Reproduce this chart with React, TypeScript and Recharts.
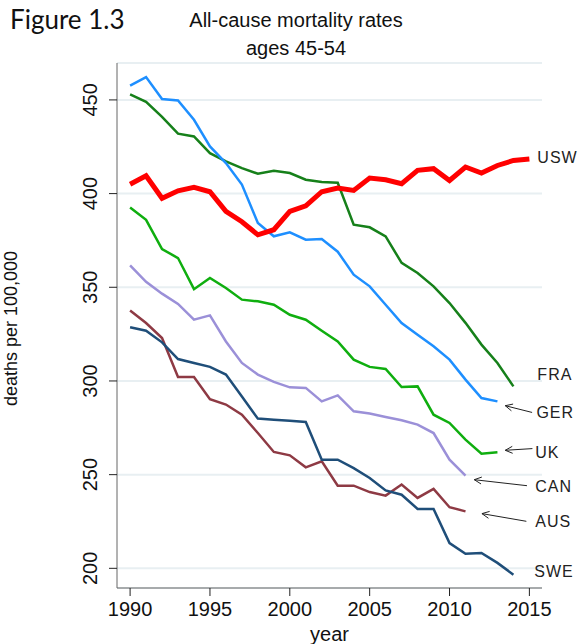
import React from 'react';
import { LineChart, Line, XAxis, YAxis, CartesianGrid, ReferenceLine, ReferenceDot } from 'recharts';

// all-cause mortality, ages 45-54, deaths per 100,000 (series start in 1990)
const years = [1990, 1991, 1992, 1993, 1994, 1995, 1996, 1997, 1998, 1999, 2000, 2001, 2002,
  2003, 2004, 2005, 2006, 2007, 2008, 2009, 2010, 2011, 2012, 2013, 2014, 2015];

const usw = [405, 409.5, 397.5, 401.5, 403.3, 401, 390.5, 385, 378, 380.7, 390.5, 393.5, 401, 403,
  401.7, 408.3, 407.4, 405.3, 412.4, 413.3, 407, 414.2, 411, 415, 417.7, 418.5];
const fra = [453, 449, 441, 432, 430.5, 421.6, 417.2, 413.6, 410.6, 412.2, 411, 407.4, 406.2, 405.8,
  383.4, 382, 377.2, 363, 357.6, 350.5, 341.6, 331, 319.4, 309.6, 297.1];
const ger = [457.6, 462.2, 450.5, 449.7, 439.4, 425.2, 416.3, 404.8, 384.3, 377.2, 379.3, 375.4, 375.8,
  369, 356.7, 350.5, 340.7, 330.9, 324.6, 318.5, 311.4, 300.7, 290.9, 289.1];
const uk = [392.6, 386, 370.4, 365.6, 349, 355, 349.6, 343.4, 342.5, 340.7, 335.3, 332.7, 326.8, 321.1,
  311.4, 307.5, 306.4, 296.8, 297.1, 282, 277.6, 268.7, 261.2, 261.9];
const can = [361.7, 352.9, 346.6, 341.1, 332.7, 335, 321.1, 309.6, 303.4, 299.5, 296.6, 296.3, 289.1,
  292.3, 283.8, 282.6, 280.8, 279, 276.7, 272.2, 258, 249.5];
const aus = [337.6, 330.9, 322.9, 302.1, 302.1, 290.3, 287.4, 282, 272.2, 262.1, 260.3, 253.9, 257.1,
  244.1, 244.1, 240.7, 238.8, 244.7, 237.6, 242.4, 232.6, 230.4];
const swe = [328.7, 326.8, 320.6, 311.7, 309.6, 307.5, 303.4, 291.7, 279.9, 279.3, 278.8, 278.1, 258,
  258, 253.5, 248.2, 241.6, 239.3, 231.7, 231.7, 213.5, 207.8, 208.2, 202.9, 196.6];

const xTicks = [1990, 1995, 2000, 2005, 2010, 2015];
const yTicks = [200, 250, 300, 350, 400, 450];

// country names at the right edge, in data units
const labelNames = ['USW', 'FRA', 'GER', 'UK', 'CAN', 'AUS', 'SWE'];
const labelYears = [2015.5, 2015.5, 2015.44, 2015.37, 2015.37, 2015.37, 2015.31];
const labelValues = [419.7, 303.9, 283.6, 262.3, 244.1, 225.1, 198.8];

// arrows: tail (near label) -> head (line end)
const arrowTails = [[2015.17, 283.2], [2015.19, 263.9], [2014.85, 244.1], [2014.81, 225.1]];
const arrowHeads = [[2013.49, 286.8], [2013.49, 263], [2011.55, 247.3], [2012.03, 229.2]];

const data = years.map((year, i) => ({
  year,
  USW: usw[i],
  FRA: fra[i],
  GER: ger[i],
  UK: uk[i],
  CAN: can[i],
  AUS: aus[i],
  SWE: swe[i],
}));

const FONT = '"Liberation Sans", Arial, sans-serif';

const XTick = (props: any) => {
  const { x, y, payload } = props;
  return (
    <text x={x} y={y} dy={16} textAnchor="middle" fontFamily={FONT} fontSize={20} fill="#111">
      {payload.value}
    </text>
  );
};

const YTick = (props: any) => {
  const { x, y, payload } = props;
  return (
    <text transform={`translate(${x},${y}) rotate(-90)`} textAnchor="middle" fontFamily={FONT} fontSize={20} fill="#111">
      {payload.value}
    </text>
  );
};

const Arrow = (props: any) => {
  const { x1, y1, x2, y2 } = props;
  const ang = Math.atan2(y1 - y2, x1 - x2);
  const len = 8;
  const a1 = ang + 0.45;
  const a2 = ang - 0.45;
  return (
    <g stroke="#222" strokeWidth={1} fill="none">
      <line x1={x1} y1={y1} x2={x2} y2={y2} />
      <line x1={x2} y1={y2} x2={x2 + len * Math.cos(a1)} y2={y2 + len * Math.sin(a1)} />
      <line x1={x2} y1={y2} x2={x2 + len * Math.cos(a2)} y2={y2 + len * Math.sin(a2)} />
    </g>
  );
};

const series = [
  { key: 'FRA', color: '#16801a', width: 2.5 },
  { key: 'GER', color: '#1e8fff', width: 2.5 },
  { key: 'UK', color: '#0fae0f', width: 2.5 },
  { key: 'CAN', color: '#9b90d8', width: 2.5 },
  { key: 'AUS', color: '#8e3a44', width: 2.5 },
  { key: 'SWE', color: '#1f4e79', width: 2.5 },
  { key: 'USW', color: '#ff0000', width: 5 },
];

export default function App() {
  return (
    <div style={{ position: 'absolute', left: 0, top: 0, width: 578, height: 644, background: '#fff' }}>
      <div style={{ position: 'absolute', left: 10, top: 3, fontFamily: 'Lato, "Open Sans", sans-serif', fontSize: 26, color: '#111' }}>
        Figure 1.3
      </div>
      <div style={{ position: 'absolute', left: 148, width: 296, top: 6, textAlign: 'center', fontFamily: FONT, fontSize: 20, lineHeight: '28px', color: '#111' }}>
        All-cause mortality rates
        <br />
        ages 45-54
      </div>
      <LineChart width={578} height={644} data={data} margin={{ top: 63, right: 36, bottom: 0, left: 0 }}>
        <CartesianGrid vertical={false} stroke="#e8eff2" strokeWidth={2} />
        <XAxis
          dataKey="year"
          type="number"
          domain={[1989.18, 2015.79]}
          allowDataOverflow
          ticks={xTicks}
          height={56}
          tickSize={8}
          tickMargin={4}
          stroke="#666"
          tickLine={{ stroke: '#222' }}
          tick={<XTick />}
          label={{
            content: (p: any) => (
              <text x={p.viewBox.x + p.viewBox.width / 2} y={p.viewBox.y + p.viewBox.height - 3}
                textAnchor="middle" fontFamily={FONT} fontSize={20} fill="#111">year</text>
            ),
          }}
        />
        <YAxis
          type="number"
          domain={[189.5, 469.7]}
          allowDataOverflow
          ticks={yTicks}
          width={117}
          tickSize={8}
          tickMargin={12}
          stroke="#666"
          tickLine={{ stroke: '#222' }}
          tick={<YTick />}
          label={{
            content: (p: any) => (
              <text transform={`translate(17,${p.viewBox.y + p.viewBox.height / 2 + 3}) rotate(-90)`}
                textAnchor="middle" fontFamily={FONT} fontSize={18} fill="#111">deaths per 100,000</text>
            ),
          }}
        />
        {series.map((s) => (
          <Line
            key={s.key}
            dataKey={s.key}
            type="linear"
            stroke={s.color}
            strokeWidth={s.width}
            dot={false}
            activeDot={false}
            connectNulls={false}
            isAnimationActive={false}
          />
        ))}
        {arrowTails.map((t, i) => (
          <ReferenceLine
            key={'arr' + i}
            segment={[{ x: t[0], y: t[1] }, { x: arrowHeads[i][0], y: arrowHeads[i][1] }]}
            shape={(p: any) => <Arrow {...p} />}
          />
        ))}
        {labelNames.map((name, i) => (
          <ReferenceDot
            key={name}
            x={labelYears[i]}
            y={labelValues[i]}
            r={0}
            shape={(p: any) => (
              <text x={p.cx} y={p.cy} dy={6} fontFamily={FONT} fontSize={16} letterSpacing={1} fill="#222">
                {name}
              </text>
            )}
          />
        ))}
      </LineChart>
    </div>
  );
}
